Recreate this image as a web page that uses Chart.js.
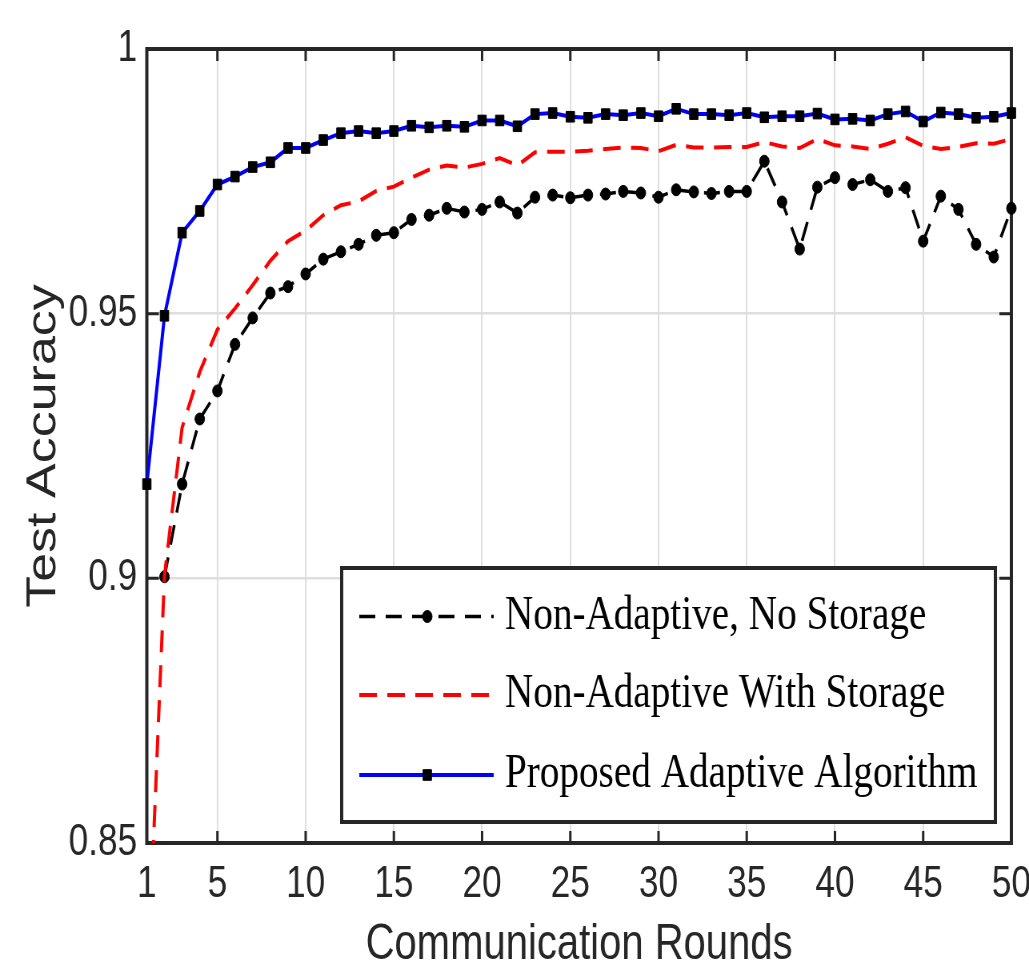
<!DOCTYPE html>
<html>
<head>
<meta charset="utf-8">
<script src="https://cdn.jsdelivr.net/npm/chart.js@4/dist/chart.umd.min.js"></script>
<style>
  body { margin: 0; background: #fff; }
</style>
</head>
<body>
<!-- the figure is drawn wide then squeezed sideways, like the original export -->
<canvas id="grafico" width="1286" height="973" style="display:block;width:1029px;height:973px"></canvas>
<script>
let rondas = [1, 2, 3, 4, 5, 6, 7, 8, 9, 10, 11, 12, 13, 14, 15, 16, 17, 18, 19, 20,
  21, 22, 23, 24, 25, 26, 27, 28, 29, 30, 31, 32, 33, 34, 35, 36, 37, 38, 39, 40,
  41, 42, 43, 44, 45, 46, 47, 48, 49, 50];

let sinAlmacen = [null, 0.9003, 0.9178, 0.9301, 0.9354, 0.9442, 0.9492, 0.9539, 0.9551, 0.9575,
  0.9603, 0.9617, 0.9631, 0.9648, 0.9653, 0.9678, 0.9686, 0.9699, 0.9692, 0.9697,
  0.9711, 0.9690, 0.9720, 0.9724, 0.9719, 0.9724, 0.9726, 0.9731, 0.9728, 0.9720,
  0.9734, 0.9730, 0.9727, 0.9731, 0.9731, 0.9788, 0.9711, 0.9622, 0.9739, 0.9757,
  0.9744, 0.9753, 0.9731, 0.9738, 0.9637, 0.9722, 0.9697, 0.9631, 0.9607, 0.9699];

let conAlmacen = [0.820, 0.9005, 0.9285, 0.9390, 0.9470, 0.9510, 0.9554, 0.9600, 0.9637, 0.9657,
  0.9686, 0.9705, 0.9712, 0.9732, 0.9740, 0.9757, 0.9772, 0.9780, 0.9776, 0.9783,
  0.9794, 0.9780, 0.9805, 0.9806, 0.9806, 0.9808, 0.9811, 0.9814, 0.9813, 0.9807,
  0.9819, 0.9814, 0.9814, 0.9815, 0.9815, 0.9824, 0.9816, 0.9813, 0.9830, 0.9818,
  0.9816, 0.9811, 0.9821, 0.9833, 0.9817, 0.9811, 0.9815, 0.9822, 0.9821, 0.9830];

let adaptativo = [0.9178, 0.9496, 0.9653, 0.9694, 0.9744, 0.9759, 0.9777, 0.9786, 0.9813, 0.9813,
  0.9828, 0.9841, 0.9845, 0.9841, 0.9845, 0.9855, 0.9852, 0.9855, 0.9853, 0.9865,
  0.9865, 0.9854, 0.9877, 0.9879, 0.9872, 0.9870, 0.9877, 0.9875, 0.9879, 0.9873,
  0.9887, 0.9877, 0.9877, 0.9875, 0.9879, 0.9871, 0.9873, 0.9873, 0.9878, 0.9867,
  0.9868, 0.9865, 0.9877, 0.9882, 0.9863, 0.9880, 0.9877, 0.9870, 0.9872, 0.9879];

let ticksX = [1, 5, 10, 15, 20, 25, 30, 35, 40, 45, 50];
let ticksY = [0.85, 0.9, 0.95, 1];

let nombres = ["Non-Adaptive, No Storage", "Non-Adaptive With Storage", "Proposed Adaptive Algorithm"];

const gris = "#262626";

// marco tipo matlab, con marcas hacia adentro en los cuatro lados
const marco = {
  id: "marco",
  beforeDatasetsDraw(chart) {
    let ctx = chart.ctx;
    let a = chart.chartArea;
    ctx.save();
    ctx.strokeStyle = gris;
    ctx.lineWidth = 4;
    ctx.strokeRect(a.left, a.top, a.right - a.left, a.bottom - a.top);
    ctx.lineWidth = 3;
    ctx.beginPath();
    ticksX.forEach((v) => {
      let px = chart.scales.x.getPixelForValue(v);
      ctx.moveTo(px, a.bottom); ctx.lineTo(px, a.bottom - 12);
      ctx.moveTo(px, a.top); ctx.lineTo(px, a.top + 12);
    });
    ticksY.forEach((v) => {
      let py = chart.scales.y.getPixelForValue(v);
      ctx.moveTo(a.left, py); ctx.lineTo(a.left + 15, py);
      ctx.moveTo(a.right, py); ctx.lineTo(a.right - 15, py);
    });
    ctx.stroke();
    ctx.restore();
  }
};

// leyenda dentro del area, con muestra de linea y marcador
const leyenda = {
  id: "leyenda",
  afterDraw(chart) {
    let ctx = chart.ctx;
    let a = chart.chartArea;
    let w = 817, h = 254;
    let x0 = a.right - 20 - w;
    let y0 = a.bottom - 21 - h;
    ctx.save();
    ctx.fillStyle = "#fff";
    ctx.fillRect(x0, y0, w, h);
    ctx.strokeStyle = gris;
    ctx.lineWidth = 4;
    ctx.strokeRect(x0, y0, w, h);
    let filas = [48.5, 127, 207];
    chart.data.datasets.forEach((ds, i) => {
      let y = y0 + filas[i];
      ctx.strokeStyle = ds.borderColor;
      ctx.lineWidth = ds.borderWidth;
      ctx.setLineDash(ds.borderDash || []);
      ctx.beginPath();
      ctx.moveTo(x0 + 22, y);
      ctx.lineTo(x0 + 190, y);
      ctx.stroke();
      ctx.setLineDash([]);
      if (ds.pointRadius > 0) {
        ctx.fillStyle = ds.pointBackgroundColor;
        ctx.strokeStyle = ds.pointBorderColor;
        ctx.lineWidth = ds.pointBorderWidth;
        Chart.helpers.drawPoint(ctx, { pointStyle: ds.pointStyle, radius: ds.pointRadius, borderWidth: ds.pointBorderWidth, rotation: 0 }, x0 + 107, y);
      }
      ctx.fillStyle = "#000";
      ctx.font = "49px 'Liberation Serif', 'Times New Roman', serif";
      ctx.textBaseline = "alphabetic";
      ctx.textAlign = "left";
      ctx.fillText(ds.label, x0 + 204, y + 12);
    });
    ctx.restore();
  }
};

let ctx = document.querySelector("#grafico");

let datasets = [
  {
    label: nombres[0],
    data: sinAlmacen,
    borderColor: "#000000",
    borderWidth: 3.5,
    borderDash: [20, 13],
    pointStyle: "circle",
    pointRadius: 6,
    pointBackgroundColor: "#000000",
    pointBorderColor: "#000000",
    pointBorderWidth: 1,
    clip: false,
    order: 3
  },
  {
    label: nombres[1],
    data: conAlmacen,
    borderColor: "#ff0000",
    borderWidth: 4,
    borderDash: [22, 13],
    pointRadius: 0,
    order: 2
  },
  {
    label: nombres[2],
    data: adaptativo,
    borderColor: "#0000ff",
    borderWidth: 4,
    pointStyle: "rect",
    pointRadius: 7.5,
    pointBackgroundColor: "#000000",
    pointBorderColor: "#000000",
    pointBorderWidth: 1,
    clip: false,
    order: 1
  }
];

Chart.defaults.font.family = "'Liberation Sans', Arial, sans-serif";
Chart.defaults.color = gris;

let config = {
  type: "line",
  data: { labels: rondas, datasets },
  options: {
    responsive: false,
    devicePixelRatio: 1,
    animation: false,
    events: [],
    layout: { padding: { top: 49, right: 22, bottom: 0, left: 0 } },
    plugins: {
      legend: { display: false },
      tooltip: { enabled: false }
    },
    scales: {
      x: {
        type: "linear",
        min: 1,
        max: 50,
        afterBuildTicks: (s) => { s.ticks = ticksX.map((v) => ({ value: v })); },
        afterFit: (s) => { s.height = 130; s.paddingLeft = 0; s.paddingRight = 0; },
        ticks: { font: { size: 44 }, padding: 15, maxRotation: 0, autoSkip: false },
        grid: { color: "#dedede", lineWidth: 2, drawTicks: false },
        border: { display: false },
        title: { display: true, text: "Communication Rounds", font: { size: 50, lineHeight: 1 }, padding: { top: 0, bottom: 3 } }
      },
      y: {
        min: 0.85,
        max: 1,
        afterBuildTicks: (s) => { s.ticks = ticksY.map((v) => ({ value: v })); },
        afterFit: (s) => { s.width = 183.5; s.paddingTop = 0; s.paddingBottom = 0; },
        ticks: { font: { size: 44 }, padding: 12, callback: (v) => String(v) },
        grid: { color: "#dedede", lineWidth: 2.5, drawTicks: false },
        border: { display: false },
        title: { display: true, text: "Test Accuracy", font: { size: 52, lineHeight: 1 }, padding: { top: 29, bottom: 0 } }
      }
    }
  },
  plugins: [marco, leyenda]
};

let myChart = new Chart(ctx, config);
</script>
</body>
</html>
